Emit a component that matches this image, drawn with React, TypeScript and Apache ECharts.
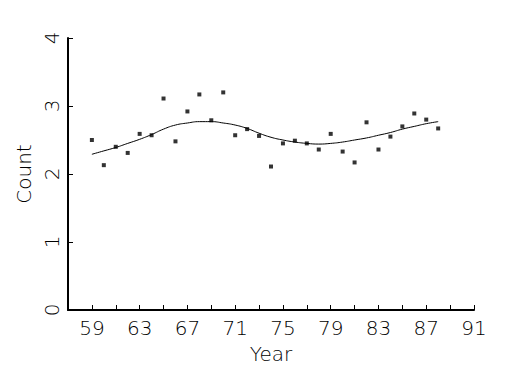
import React, { useEffect, useRef } from "react";
import * as echarts from "echarts";

const years = [59, 60, 61, 62, 63, 64, 65, 66, 67, 68, 69, 70, 71, 72, 73, 74, 75, 76, 77, 78, 79, 80, 81, 82, 83, 84, 85, 86, 87, 88];
const counts = [2.5, 2.13, 2.4, 2.31, 2.59, 2.57, 3.11, 2.48, 2.92, 3.17, 2.79, 3.2, 2.57, 2.66, 2.56, 2.11, 2.45, 2.49, 2.45, 2.36, 2.59, 2.33, 2.17, 2.76, 2.36, 2.55, 2.7, 2.89, 2.8, 2.67];
const fitted = [2.29, 2.34, 2.39, 2.45, 2.51, 2.58, 2.66, 2.72, 2.75, 2.77, 2.77, 2.75, 2.72, 2.67, 2.6, 2.54, 2.5, 2.47, 2.45, 2.44, 2.45, 2.47, 2.5, 2.53, 2.57, 2.61, 2.66, 2.7, 2.74, 2.77];
const xLabelValues = [59, 63, 67, 71, 75, 79, 83, 87, 91];
const xTickValues = [59, 61, 63, 65, 67, 69, 71, 73, 75, 77, 79, 81, 83, 85, 87, 89, 91];

const FONT = "DejaVu Sans";

export default function App() {
  const ref = useRef<HTMLDivElement>(null);
  useEffect(() => {
    if (!ref.current) return;
    const chart = echarts.init(ref.current, null, { renderer: "svg" });
    const textStyle = { color: "#000", fontFamily: FONT, fontWeight: 200 as any, fontSize: 20 };
    chart.setOption({
      animation: false,
      backgroundColor: "#fff",
      grid: { left: 68, right: 51, top: 38, bottom: 65, containLabel: false },
      xAxis: {
        type: "value",
        min: 57,
        max: 91,
        name: "Year",
        nameLocation: "middle",
        nameGap: 34,
        nameTextStyle: { ...textStyle },
        axisLine: { show: true, onZero: false, lineStyle: { color: "#000", width: 2 } },
        axisTick: { show: true, inside: true, length: 5, lineStyle: { color: "#000", width: 1 }, customValues: xTickValues },
        axisLabel: { ...textStyle, margin: 8, customValues: xLabelValues, showMinLabel: true, showMaxLabel: true },
        splitLine: { show: false },
      },
      yAxis: {
        type: "value",
        min: 0,
        max: 4,
        interval: 1,
        name: "Count",
        nameLocation: "middle",
        nameRotate: 90,
        nameGap: 34,
        nameTextStyle: { ...textStyle },
        axisLine: { show: true, onZero: false, lineStyle: { color: "#000", width: 2 } },
        axisTick: { show: true, inside: true, length: 5, lineStyle: { color: "#000", width: 1 } },
        axisLabel: { ...textStyle, rotate: 90, margin: 6 },
        splitLine: { show: false },
      },
      series: [
        {
          type: "scatter",
          data: years.map((y, i) => [y, counts[i]]),
          symbol: "rect",
          symbolSize: 4,
          itemStyle: { color: "#000" },
        },
        {
          type: "line",
          data: years.map((y, i) => [y, fitted[i]]),
          smooth: true,
          showSymbol: false,
          lineStyle: { color: "#000", width: 1 },
        },
      ],
    });
    return () => chart.dispose();
  }, []);
  return <div ref={ref} style={{ position: "fixed", left: 0, top: 0, width: 525, height: 375, background: "#fff" }} />;
}
